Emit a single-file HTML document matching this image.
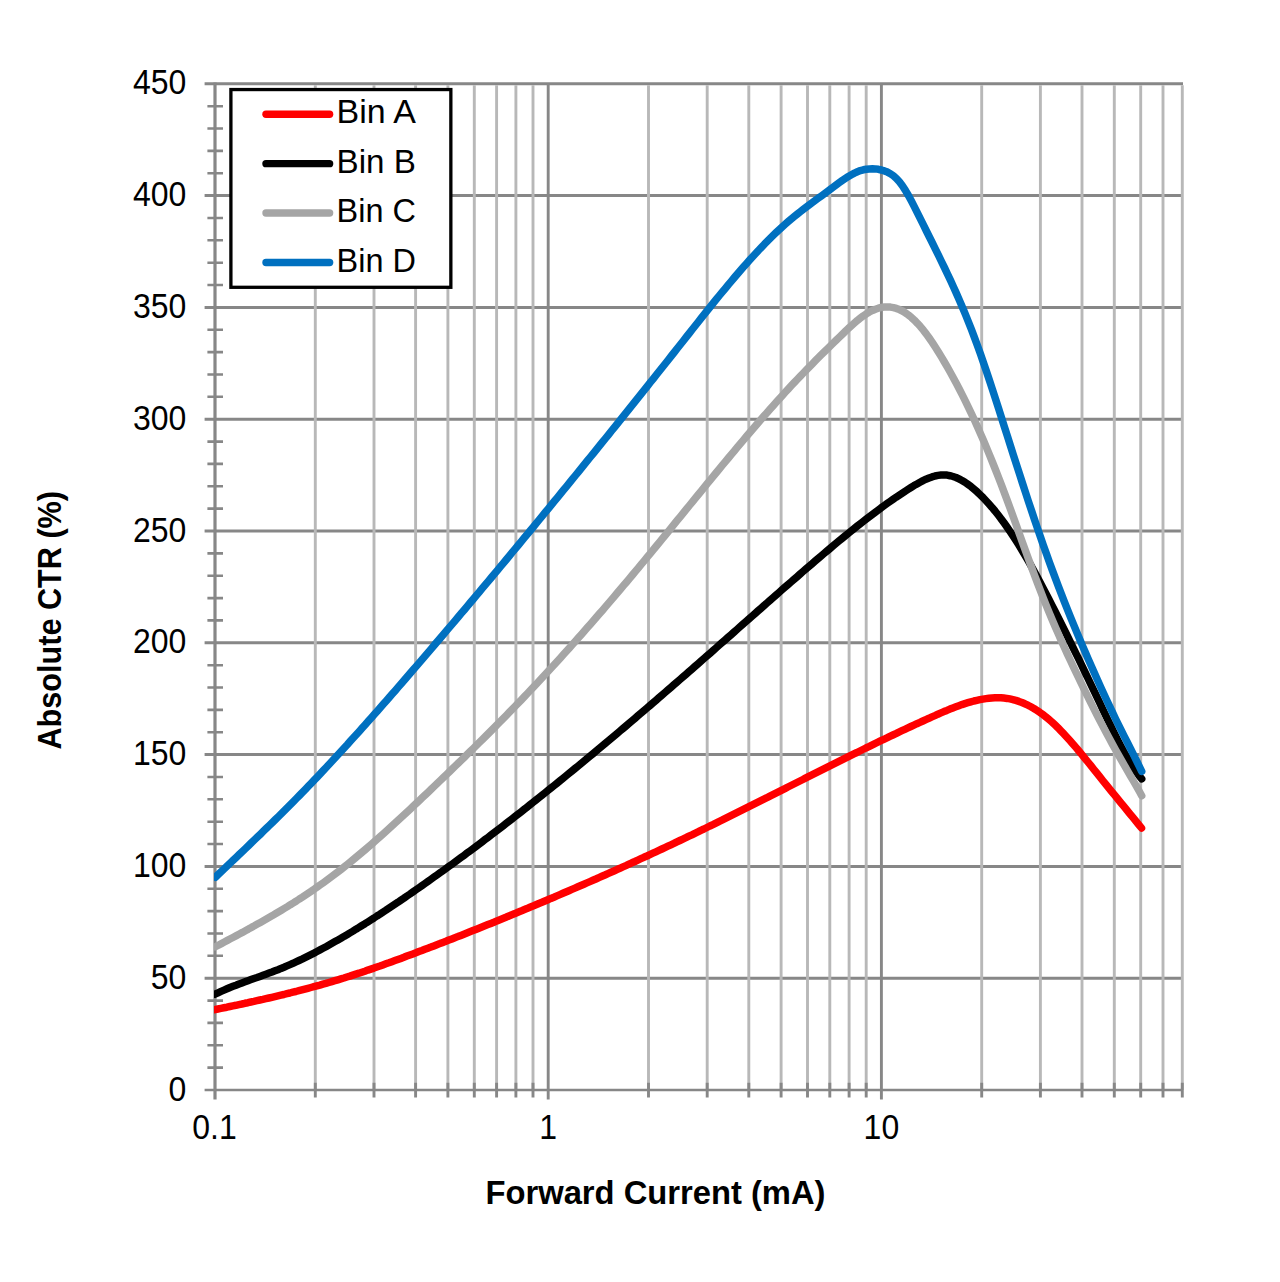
<!DOCTYPE html><html><head><meta charset="utf-8"><title>Absolute CTR vs Forward Current</title><style>html,body{margin:0;padding:0;background:#fff;}svg{display:block;}</style></head><body>
<svg width="1280" height="1282" viewBox="0 0 1280 1282">
<rect width="1280" height="1282" fill="#fff"/>
<path d="M204.6 978.2H1183.0M204.6 866.4H1183.0M204.6 754.6H1183.0M204.6 642.8H1183.0M204.6 531.0H1183.0M204.6 419.2H1183.0M204.6 307.4H1183.0M204.6 195.6H1183.0M204.6 83.8H1183.0" stroke="#878787" stroke-width="3" fill="none"/>
<path d="M315.3 85.3V1090.0M374.0 85.3V1090.0M415.6 85.3V1090.0M447.9 85.3V1090.0M474.3 85.3V1090.0M496.6 85.3V1090.0M515.9 85.3V1090.0M533.0 85.3V1090.0M648.5 85.3V1090.0M707.2 85.3V1090.0M748.8 85.3V1090.0M781.1 85.3V1090.0M807.5 85.3V1090.0M829.8 85.3V1090.0M849.1 85.3V1090.0M866.2 85.3V1090.0M981.7 85.3V1090.0M1040.4 85.3V1090.0M1082.0 85.3V1090.0M1114.3 85.3V1090.0M1140.7 85.3V1090.0M1163.0 85.3V1090.0M1182.3 85.3V1090.0" stroke="#b8b8b8" stroke-width="2.9" fill="none"/>
<path d="M204.6 1090.0H1183.0" stroke="#878787" stroke-width="2.6" fill="none"/>
<path d="M315.3 1082.7V1097.5M374.0 1082.7V1097.5M415.6 1082.7V1097.5M447.9 1082.7V1097.5M474.3 1082.7V1097.5M496.6 1082.7V1097.5M515.9 1082.7V1097.5M533.0 1082.7V1097.5M648.5 1082.7V1097.5M707.2 1082.7V1097.5M748.8 1082.7V1097.5M781.1 1082.7V1097.5M807.5 1082.7V1097.5M829.8 1082.7V1097.5M849.1 1082.7V1097.5M866.2 1082.7V1097.5M981.7 1082.7V1097.5M1040.4 1082.7V1097.5M1082.0 1082.7V1097.5M1114.3 1082.7V1097.5M1140.7 1082.7V1097.5M1163.0 1082.7V1097.5M1182.3 1082.7V1097.5" stroke="#878787" stroke-width="2.9" fill="none"/>
<path d="M548.2 83.8V1099.5M881.4 83.8V1099.5" stroke="#878787" stroke-width="2.9" fill="none"/>
<path d="M215.0 82.5V1099.5" stroke="#878787" stroke-width="3.2" fill="none"/>
<path d="M207.4 1067.6H223M207.4 1045.3H223M207.4 1022.9H223M207.4 1000.6H223M207.4 955.8H223M207.4 933.5H223M207.4 911.1H223M207.4 888.8H223M207.4 844.0H223M207.4 821.7H223M207.4 799.3H223M207.4 777.0H223M207.4 732.2H223M207.4 709.9H223M207.4 687.5H223M207.4 665.2H223M207.4 620.4H223M207.4 598.1H223M207.4 575.7H223M207.4 553.4H223M207.4 508.6H223M207.4 486.3H223M207.4 463.9H223M207.4 441.6H223M207.4 396.8H223M207.4 374.5H223M207.4 352.1H223M207.4 329.8H223M207.4 285.0H223M207.4 262.7H223M207.4 240.3H223M207.4 218.0H223M207.4 173.2H223M207.4 150.9H223M207.4 128.5H223M207.4 106.2H223" stroke="#878787" stroke-width="2.6" fill="none"/>
<defs><clipPath id="pc"><rect x="214" y="0" width="1066" height="1282"/></clipPath></defs><g clip-path="url(#pc)">
<path d="M214.9 1009.7 217.9 1009.0 220.9 1008.4 223.9 1007.8 226.9 1007.2 229.9 1006.5 232.9 1005.9 235.9 1005.3 238.9 1004.6 241.9 1004.0 244.9 1003.3 247.9 1002.7 250.9 1002.0 253.9 1001.4 256.9 1000.7 259.9 1000.0 262.9 999.4 265.9 998.7 268.9 998.0 271.9 997.3 274.9 996.6 277.9 995.9 280.9 995.2 283.9 994.5 286.9 993.7 289.9 993.0 292.9 992.2 295.9 991.5 298.9 990.7 301.9 989.9 304.9 989.1 307.9 988.3 310.9 987.5 313.9 986.7 316.9 985.9 319.9 985.1 322.9 984.2 325.9 983.4 328.9 982.5 331.9 981.6 334.9 980.7 337.9 979.8 340.9 978.9 343.9 978.0 346.9 977.0 349.9 976.1 352.9 975.1 355.9 974.1 358.9 973.2 361.9 972.2 364.9 971.2 367.9 970.1 370.9 969.1 373.9 968.1 376.9 967.0 379.9 966.0 382.9 964.9 385.9 963.8 388.9 962.8 391.9 961.7 394.9 960.6 397.9 959.5 400.9 958.4 403.9 957.3 406.9 956.1 409.9 955.0 412.9 953.9 415.9 952.8 418.9 951.6 421.9 950.5 424.9 949.3 427.9 948.2 430.9 947.1 433.9 945.9 436.9 944.7 439.9 943.6 442.9 942.4 445.9 941.3 448.9 940.1 451.9 938.9 454.9 937.7 457.9 936.6 460.9 935.4 463.9 934.2 466.9 933.0 469.9 931.8 472.9 930.6 475.9 929.4 478.9 928.2 481.9 927.0 484.9 925.8 487.9 924.6 490.9 923.4 493.9 922.2 496.9 920.9 499.9 919.7 502.9 918.5 505.9 917.3 508.9 916.0 511.9 914.8 514.9 913.6 517.9 912.3 520.9 911.1 523.9 909.8 526.9 908.6 529.9 907.3 532.9 906.1 535.9 904.8 538.9 903.5 541.9 902.3 544.9 901.0 547.9 899.7 550.9 898.4 553.9 897.2 556.9 895.9 559.9 894.6 562.9 893.3 565.9 892.0 568.9 890.7 571.9 889.4 574.9 888.1 577.9 886.8 580.9 885.5 583.9 884.2 586.9 882.9 589.9 881.6 592.9 880.3 595.9 879.0 598.9 877.6 601.9 876.3 604.9 875.0 607.9 873.6 610.9 872.3 613.9 871.0 616.9 869.6 619.9 868.3 622.9 866.9 625.9 865.6 628.9 864.2 631.9 862.8 634.9 861.5 637.9 860.1 640.9 858.7 643.9 857.3 646.9 856.0 649.9 854.6 652.9 853.2 655.9 851.8 658.9 850.4 661.9 849.0 664.9 847.6 667.9 846.2 670.9 844.8 673.9 843.4 676.9 841.9 679.9 840.5 682.9 839.1 685.9 837.7 688.9 836.2 691.9 834.8 694.9 833.3 697.9 831.9 700.9 830.4 703.9 829.0 706.9 827.5 709.9 826.0 712.9 824.6 715.9 823.1 718.9 821.6 721.9 820.2 724.9 818.7 727.9 817.2 730.9 815.7 733.9 814.2 736.9 812.7 739.9 811.2 742.9 809.7 745.9 808.2 748.9 806.7 751.9 805.2 754.9 803.7 757.9 802.2 760.9 800.7 763.9 799.2 766.9 797.7 769.9 796.1 772.9 794.6 775.9 793.1 778.9 791.6 781.9 790.1 784.9 788.6 787.9 787.0 790.9 785.5 793.9 784.0 796.9 782.5 799.9 781.0 802.9 779.5 805.9 777.9 808.9 776.4 811.9 774.9 814.9 773.4 817.9 771.9 820.9 770.4 823.9 768.9 826.9 767.4 829.9 765.9 832.9 764.4 835.9 762.9 838.9 761.4 841.9 759.9 844.9 758.4 847.9 756.9 850.9 755.4 853.9 753.9 856.9 752.5 859.9 751.0 862.9 749.5 865.9 748.0 868.9 746.6 871.9 745.1 874.9 743.6 877.9 742.2 880.9 740.7 883.9 739.3 886.9 737.9 889.9 736.4 892.9 735.0 895.9 733.6 898.9 732.1 901.9 730.7 904.9 729.3 907.9 727.9 910.9 726.5 913.9 725.1 916.9 723.7 919.9 722.4 922.9 721.0 925.9 719.6 928.9 718.3 931.9 716.9 934.9 715.6 937.9 714.2 940.9 712.9 943.9 711.6 946.9 710.4 949.9 709.1 952.9 707.9 955.9 706.8 958.9 705.7 961.9 704.6 964.9 703.6 967.9 702.7 970.9 701.8 973.9 701.0 976.9 700.3 979.9 699.6 982.9 699.1 985.9 698.6 988.9 698.2 991.9 697.9 994.9 697.8 997.9 697.7 1000.9 697.8 1003.9 698.1 1006.9 698.4 1009.9 698.9 1012.9 699.6 1015.9 700.4 1018.9 701.4 1021.9 702.5 1024.9 703.8 1027.9 705.2 1030.9 706.8 1033.9 708.5 1036.9 710.4 1039.9 712.4 1042.9 714.6 1045.9 716.9 1048.9 719.4 1051.9 722.0 1054.9 724.8 1057.9 727.7 1060.9 730.8 1063.9 733.9 1066.9 737.2 1069.9 740.5 1072.9 743.9 1075.9 747.4 1078.9 751.0 1081.9 754.6 1084.9 758.3 1087.9 762.0 1090.9 765.7 1093.9 769.5 1096.9 773.2 1099.9 776.9 1102.9 780.7 1105.9 784.4 1108.9 788.1 1111.9 791.8 1114.9 795.4 1117.9 799.1 1120.9 802.8 1123.9 806.4 1126.9 810.1 1129.9 813.8 1132.9 817.4 1135.9 821.1 1138.9 824.8 1141.5 828.0" stroke="#ff0000" stroke-width="7.5" fill="none" stroke-linecap="round" stroke-linejoin="round"/>
<path d="M215.0 994.2 218.0 992.8 221.0 991.4 224.0 990.1 227.0 988.8 230.0 987.5 233.0 986.3 236.0 985.2 239.0 984.0 242.0 982.9 245.0 981.8 248.0 980.7 251.0 979.6 254.0 978.5 257.0 977.5 260.0 976.4 263.0 975.3 266.0 974.2 269.0 973.1 272.0 972.0 275.0 970.8 278.0 969.7 281.0 968.4 284.0 967.2 287.0 965.9 290.0 964.6 293.0 963.3 296.0 961.9 299.0 960.5 302.0 959.1 305.0 957.6 308.0 956.1 311.0 954.6 314.0 953.1 317.0 951.5 320.0 949.9 323.0 948.3 326.0 946.7 329.0 945.0 332.0 943.3 335.0 941.6 338.0 939.9 341.0 938.2 344.0 936.4 347.0 934.7 350.0 932.9 353.0 931.1 356.0 929.2 359.0 927.4 362.0 925.5 365.0 923.7 368.0 921.8 371.0 919.9 374.0 918.0 377.0 916.0 380.0 914.1 383.0 912.1 386.0 910.2 389.0 908.2 392.0 906.2 395.0 904.2 398.0 902.2 401.0 900.1 404.0 898.1 407.0 896.0 410.0 894.0 413.0 891.9 416.0 889.8 419.0 887.7 422.0 885.6 425.0 883.5 428.0 881.4 431.0 879.3 434.0 877.1 437.0 875.0 440.0 872.8 443.0 870.7 446.0 868.5 449.0 866.3 452.0 864.2 455.0 862.0 458.0 859.8 461.0 857.6 464.0 855.4 467.0 853.1 470.0 850.9 473.0 848.7 476.0 846.4 479.0 844.2 482.0 841.9 485.0 839.6 488.0 837.4 491.0 835.1 494.0 832.8 497.0 830.5 500.0 828.2 503.0 825.9 506.0 823.6 509.0 821.2 512.0 818.9 515.0 816.6 518.0 814.2 521.0 811.9 524.0 809.5 527.0 807.2 530.0 804.8 533.0 802.4 536.0 800.0 539.0 797.6 542.0 795.3 545.0 792.9 548.0 790.4 551.0 788.0 554.0 785.6 557.0 783.2 560.0 780.8 563.0 778.3 566.0 775.9 569.0 773.4 572.0 771.0 575.0 768.5 578.0 766.1 581.0 763.6 584.0 761.1 587.0 758.6 590.0 756.1 593.0 753.7 596.0 751.2 599.0 748.7 602.0 746.2 605.0 743.6 608.0 741.1 611.0 738.6 614.0 736.1 617.0 733.6 620.0 731.0 623.0 728.5 626.0 726.0 629.0 723.4 632.0 720.9 635.0 718.3 638.0 715.7 641.0 713.2 644.0 710.6 647.0 708.0 650.0 705.5 653.0 702.9 656.0 700.3 659.0 697.7 662.0 695.1 665.0 692.5 668.0 689.9 671.0 687.3 674.0 684.7 677.0 682.1 680.0 679.5 683.0 676.9 686.0 674.3 689.0 671.7 692.0 669.1 695.0 666.4 698.0 663.8 701.0 661.2 704.0 658.5 707.0 655.9 710.0 653.3 713.0 650.6 716.0 648.0 719.0 645.3 722.0 642.7 725.0 640.1 728.0 637.4 731.0 634.8 734.0 632.1 737.0 629.5 740.0 626.8 743.0 624.2 746.0 621.5 749.0 618.9 752.0 616.2 755.0 613.6 758.0 610.9 761.0 608.3 764.0 605.6 767.0 603.0 770.0 600.4 773.0 597.7 776.0 595.1 779.0 592.5 782.0 589.8 785.0 587.2 788.0 584.6 791.0 582.0 794.0 579.4 797.0 576.8 800.0 574.1 803.0 571.5 806.0 568.9 809.0 566.4 812.0 563.8 815.0 561.2 818.0 558.6 821.0 556.1 824.0 553.5 827.0 551.0 830.0 548.5 833.0 545.9 836.0 543.4 839.0 540.9 842.0 538.5 845.0 536.0 848.0 533.6 851.0 531.1 854.0 528.7 857.0 526.3 860.0 524.0 863.0 521.6 866.0 519.3 869.0 517.0 872.0 514.7 875.0 512.4 878.0 510.2 881.0 507.9 884.0 505.8 887.0 503.6 890.0 501.5 893.0 499.4 896.0 497.3 899.0 495.3 902.0 493.3 905.0 491.3 908.0 489.4 911.0 487.5 914.0 485.6 917.0 483.9 920.0 482.2 923.0 480.6 926.0 479.2 929.0 478.0 932.0 476.9 935.0 476.0 938.0 475.4 941.0 475.0 944.0 474.9 947.0 475.1 950.0 475.7 953.0 476.5 956.0 477.5 959.0 478.9 962.0 480.5 965.0 482.3 968.0 484.4 971.0 486.6 974.0 489.1 977.0 491.7 980.0 494.6 983.0 497.5 986.0 500.7 989.0 504.0 992.0 507.4 995.0 511.0 998.0 514.8 1001.0 518.7 1004.0 522.8 1007.0 527.0 1010.0 531.3 1013.0 535.8 1016.0 540.5 1019.0 545.2 1022.0 550.2 1025.0 555.2 1028.0 560.4 1031.0 565.7 1034.0 571.1 1037.0 576.6 1040.0 582.2 1043.0 587.9 1046.0 593.7 1049.0 599.5 1052.0 605.4 1055.0 611.3 1058.0 617.3 1061.0 623.3 1064.0 629.3 1067.0 635.3 1070.0 641.4 1073.0 647.5 1076.0 653.6 1079.0 659.7 1082.0 665.9 1085.0 672.1 1088.0 678.3 1091.0 684.6 1094.0 690.8 1097.0 697.1 1100.0 703.4 1103.0 709.8 1106.0 716.1 1109.0 722.4 1112.0 728.6 1115.0 734.7 1118.0 740.6 1121.0 746.4 1124.0 752.0 1127.0 757.3 1130.0 762.4 1133.0 767.2 1136.0 771.6 1139.0 775.6 1141.7 778.9" stroke="#000000" stroke-width="7.5" fill="none" stroke-linecap="round" stroke-linejoin="round"/>
<path d="M215.4 946.7 218.4 945.2 221.4 943.6 224.4 942.0 227.4 940.4 230.4 938.8 233.4 937.2 236.4 935.6 239.4 934.0 242.4 932.4 245.4 930.7 248.4 929.1 251.4 927.4 254.4 925.8 257.4 924.1 260.4 922.4 263.4 920.7 266.4 919.0 269.4 917.3 272.4 915.6 275.4 913.8 278.4 912.0 281.4 910.2 284.4 908.4 287.4 906.6 290.4 904.7 293.4 902.9 296.4 901.0 299.4 899.0 302.4 897.1 305.4 895.1 308.4 893.1 311.4 891.1 314.4 889.0 317.4 886.9 320.4 884.8 323.4 882.7 326.4 880.5 329.4 878.3 332.4 876.1 335.4 873.8 338.4 871.5 341.4 869.2 344.4 866.8 347.4 864.4 350.4 862.0 353.4 859.5 356.4 857.0 359.4 854.5 362.4 852.0 365.4 849.5 368.4 846.9 371.4 844.3 374.4 841.7 377.4 839.0 380.4 836.4 383.4 833.7 386.4 831.0 389.4 828.3 392.4 825.5 395.4 822.8 398.4 820.0 401.4 817.3 404.4 814.5 407.4 811.7 410.4 808.9 413.4 806.1 416.4 803.2 419.4 800.4 422.4 797.6 425.4 794.7 428.4 791.9 431.4 789.0 434.4 786.1 437.4 783.3 440.4 780.4 443.4 777.5 446.4 774.6 449.4 771.7 452.4 768.8 455.4 765.9 458.4 763.0 461.4 760.1 464.4 757.2 467.4 754.2 470.4 751.3 473.4 748.4 476.4 745.4 479.4 742.4 482.4 739.5 485.4 736.5 488.4 733.5 491.4 730.5 494.4 727.5 497.4 724.4 500.4 721.4 503.4 718.3 506.4 715.3 509.4 712.2 512.4 709.1 515.4 706.0 518.4 702.9 521.4 699.8 524.4 696.6 527.4 693.5 530.4 690.3 533.4 687.2 536.4 684.0 539.4 680.8 542.4 677.5 545.4 674.3 548.4 671.0 551.4 667.8 554.4 664.5 557.4 661.2 560.4 657.9 563.4 654.6 566.4 651.3 569.4 647.9 572.4 644.6 575.4 641.2 578.4 637.8 581.4 634.4 584.4 631.0 587.4 627.6 590.4 624.2 593.4 620.8 596.4 617.3 599.4 613.8 602.4 610.4 605.4 606.9 608.4 603.4 611.4 599.9 614.4 596.3 617.4 592.8 620.4 589.3 623.4 585.7 626.4 582.2 629.4 578.6 632.4 575.0 635.4 571.4 638.4 567.8 641.4 564.2 644.4 560.6 647.4 556.9 650.4 553.3 653.4 549.6 656.4 546.0 659.4 542.3 662.4 538.6 665.4 535.0 668.4 531.3 671.4 527.6 674.4 523.9 677.4 520.2 680.4 516.6 683.4 512.9 686.4 509.2 689.4 505.5 692.4 501.8 695.4 498.1 698.4 494.5 701.4 490.8 704.4 487.1 707.4 483.4 710.4 479.8 713.4 476.1 716.4 472.5 719.4 468.8 722.4 465.2 725.4 461.6 728.4 458.0 731.4 454.4 734.4 450.8 737.4 447.2 740.4 443.6 743.4 440.1 746.4 436.5 749.4 433.0 752.4 429.5 755.4 426.0 758.4 422.5 761.4 419.0 764.4 415.6 767.4 412.2 770.4 408.8 773.4 405.4 776.4 402.1 779.4 398.7 782.4 395.4 785.4 392.1 788.4 388.9 791.4 385.6 794.4 382.4 797.4 379.2 800.4 376.1 803.4 373.0 806.4 369.9 809.4 366.8 812.4 363.8 815.4 360.7 818.4 357.7 821.4 354.7 824.4 351.8 827.4 348.8 830.4 345.9 833.4 342.9 836.4 340.0 839.4 337.1 842.4 334.2 845.4 331.3 848.4 328.4 851.4 325.7 854.4 323.0 857.4 320.4 860.4 318.1 863.4 315.8 866.4 313.8 869.4 312.0 872.4 310.5 875.4 309.2 878.4 308.2 881.4 307.4 884.4 307.0 887.4 306.9 890.4 307.1 893.4 307.6 896.4 308.4 899.4 309.6 902.4 311.0 905.4 312.9 908.4 315.0 911.4 317.4 914.4 320.2 917.4 323.3 920.4 326.6 923.4 330.2 926.4 334.1 929.4 338.3 932.4 342.6 935.4 347.2 938.4 352.0 941.4 356.9 944.4 362.0 947.4 367.2 950.4 372.5 953.4 378.0 956.4 383.5 959.4 389.3 962.4 395.1 965.4 401.1 968.4 407.3 971.4 413.6 974.4 420.0 977.4 426.6 980.4 433.4 983.4 440.3 986.4 447.4 989.4 454.6 992.4 462.0 995.4 469.5 998.4 477.2 1001.4 484.9 1004.4 492.9 1007.4 500.9 1010.4 509.0 1013.4 517.3 1016.4 525.6 1019.4 533.9 1022.4 542.2 1025.4 550.5 1028.4 558.8 1031.4 566.9 1034.4 575.0 1037.4 582.9 1040.4 590.7 1043.4 598.3 1046.4 605.8 1049.4 613.1 1052.4 620.2 1055.4 627.2 1058.4 634.1 1061.4 640.9 1064.4 647.5 1067.4 654.1 1070.4 660.5 1073.4 666.9 1076.4 673.2 1079.4 679.5 1082.4 685.7 1085.4 691.8 1088.4 697.9 1091.4 703.9 1094.4 709.9 1097.4 715.8 1100.4 721.6 1103.4 727.3 1106.4 733.0 1109.4 738.6 1112.4 744.1 1115.4 749.5 1118.4 754.9 1121.4 760.2 1124.4 765.4 1127.4 770.6 1130.4 775.8 1133.4 781.0 1136.4 786.2 1139.4 791.5 1141.7 795.7" stroke="#a5a5a5" stroke-width="7.5" fill="none" stroke-linecap="round" stroke-linejoin="round"/>
<path d="M215.4 877.2 218.4 874.3 221.4 871.5 224.4 868.6 227.4 865.8 230.4 862.9 233.4 860.0 236.4 857.2 239.4 854.3 242.4 851.5 245.4 848.6 248.4 845.7 251.4 842.8 254.4 839.9 257.4 837.1 260.4 834.2 263.4 831.2 266.4 828.3 269.4 825.4 272.4 822.5 275.4 819.5 278.4 816.6 281.4 813.6 284.4 810.6 287.4 807.6 290.4 804.6 293.4 801.6 296.4 798.5 299.4 795.5 302.4 792.4 305.4 789.3 308.4 786.2 311.4 783.1 314.4 779.9 317.4 776.8 320.4 773.6 323.4 770.4 326.4 767.2 329.4 764.0 332.4 760.8 335.4 757.5 338.4 754.3 341.4 751.0 344.4 747.7 347.4 744.5 350.4 741.1 353.4 737.8 356.4 734.5 359.4 731.2 362.4 727.8 365.4 724.5 368.4 721.1 371.4 717.7 374.4 714.3 377.4 710.9 380.4 707.5 383.4 704.1 386.4 700.7 389.4 697.2 392.4 693.8 395.4 690.4 398.4 686.9 401.4 683.5 404.4 680.0 407.4 676.5 410.4 673.0 413.4 669.6 416.4 666.1 419.4 662.6 422.4 659.1 425.4 655.6 428.4 652.1 431.4 648.6 434.4 645.0 437.4 641.5 440.4 638.0 443.4 634.5 446.4 630.9 449.4 627.4 452.4 623.9 455.4 620.3 458.4 616.8 461.4 613.2 464.4 609.7 467.4 606.1 470.4 602.5 473.4 599.0 476.4 595.4 479.4 591.8 482.4 588.2 485.4 584.6 488.4 581.1 491.4 577.5 494.4 573.9 497.4 570.3 500.4 566.7 503.4 563.1 506.4 559.5 509.4 555.8 512.4 552.2 515.4 548.6 518.4 545.0 521.4 541.4 524.4 537.7 527.4 534.1 530.4 530.5 533.4 526.8 536.4 523.2 539.4 519.5 542.4 515.9 545.4 512.2 548.4 508.6 551.4 504.9 554.4 501.2 557.4 497.6 560.4 493.9 563.4 490.2 566.4 486.6 569.4 482.9 572.4 479.2 575.4 475.5 578.4 471.8 581.4 468.1 584.4 464.4 587.4 460.7 590.4 457.0 593.4 453.3 596.4 449.6 599.4 445.9 602.4 442.2 605.4 438.5 608.4 434.8 611.4 431.0 614.4 427.3 617.4 423.6 620.4 419.9 623.4 416.1 626.4 412.4 629.4 408.6 632.4 404.9 635.4 401.1 638.4 397.4 641.4 393.6 644.4 389.9 647.4 386.1 650.4 382.3 653.4 378.6 656.4 374.8 659.4 371.0 662.4 367.2 665.4 363.5 668.4 359.7 671.4 355.9 674.4 352.1 677.4 348.3 680.4 344.5 683.4 340.7 686.4 336.9 689.4 333.1 692.4 329.3 695.4 325.5 698.4 321.7 701.4 317.9 704.4 314.2 707.4 310.4 710.4 306.7 713.4 302.9 716.4 299.2 719.4 295.5 722.4 291.9 725.4 288.3 728.4 284.6 731.4 281.1 734.4 277.5 737.4 274.0 740.4 270.5 743.4 267.1 746.4 263.7 749.4 260.3 752.4 257.0 755.4 253.8 758.4 250.5 761.4 247.4 764.4 244.2 767.4 241.2 770.4 238.2 773.4 235.2 776.4 232.3 779.4 229.5 782.4 226.7 785.4 224.0 788.4 221.4 791.4 218.9 794.4 216.4 797.4 214.0 800.4 211.6 803.4 209.3 806.4 207.0 809.4 204.7 812.4 202.5 815.4 200.3 818.4 198.1 821.4 195.9 824.4 193.7 827.4 191.5 830.4 189.2 833.4 187.0 836.4 184.7 839.4 182.5 842.4 180.4 845.4 178.4 848.4 176.4 851.4 174.7 854.4 173.1 857.4 171.8 860.4 170.6 863.4 169.8 866.4 169.2 869.4 168.9 872.4 168.8 875.4 168.9 878.4 169.3 881.4 170.0 884.4 170.9 887.4 172.1 890.4 173.7 893.4 175.8 896.4 178.5 899.4 181.8 902.4 185.8 905.4 190.4 908.4 195.5 911.4 201.1 914.4 206.9 917.4 212.9 920.4 218.9 923.4 224.9 926.4 231.0 929.4 237.0 932.4 243.0 935.4 249.1 938.4 255.2 941.4 261.3 944.4 267.5 947.4 273.8 950.4 280.2 953.4 286.8 956.4 293.4 959.4 300.2 962.4 307.2 965.4 314.4 968.4 321.8 971.4 329.4 974.4 337.3 977.4 345.5 980.4 353.8 983.4 362.5 986.4 371.3 989.4 380.2 992.4 389.4 995.4 398.6 998.4 407.9 1001.4 417.3 1004.4 426.8 1007.4 436.2 1010.4 445.7 1013.4 455.1 1016.4 464.4 1019.4 473.7 1022.4 483.0 1025.4 492.2 1028.4 501.3 1031.4 510.3 1034.4 519.2 1037.4 528.1 1040.4 536.8 1043.4 545.4 1046.4 553.8 1049.4 562.2 1052.4 570.4 1055.4 578.4 1058.4 586.3 1061.4 594.1 1064.4 601.8 1067.4 609.3 1070.4 616.8 1073.4 624.1 1076.4 631.4 1079.4 638.5 1082.4 645.6 1085.4 652.6 1088.4 659.5 1091.4 666.3 1094.4 673.1 1097.4 679.8 1100.4 686.5 1103.4 693.0 1106.4 699.5 1109.4 705.9 1112.4 712.2 1115.4 718.5 1118.4 724.6 1121.4 730.7 1124.4 736.6 1127.4 742.5 1130.4 748.5 1133.4 754.4 1136.4 760.5 1139.4 766.6 1141.7 771.4" stroke="#0070c0" stroke-width="7.5" fill="none" stroke-linecap="round" stroke-linejoin="round"/>
</g>
<rect x="230.9" y="89.55" width="219.95" height="197.75" fill="#fff" stroke="#000" stroke-width="3.3"/>
<path d="M266 114.20H329.6" stroke="#ff0000" stroke-width="7.4" stroke-linecap="round"/>
<text x="336.6" y="123.40" font-family="Liberation Sans, sans-serif" font-size="34" textLength="79.3" lengthAdjust="spacingAndGlyphs" fill="#000">Bin A</text>
<path d="M266 163.63H329.6" stroke="#000000" stroke-width="7.4" stroke-linecap="round"/>
<text x="336.6" y="172.83" font-family="Liberation Sans, sans-serif" font-size="34" textLength="79.3" lengthAdjust="spacingAndGlyphs" fill="#000">Bin B</text>
<path d="M266 213.06H329.6" stroke="#a5a5a5" stroke-width="7.4" stroke-linecap="round"/>
<text x="336.6" y="222.26" font-family="Liberation Sans, sans-serif" font-size="34" textLength="79.3" lengthAdjust="spacingAndGlyphs" fill="#000">Bin C</text>
<path d="M266 262.49H329.6" stroke="#0070c0" stroke-width="7.4" stroke-linecap="round"/>
<text x="336.6" y="271.69" font-family="Liberation Sans, sans-serif" font-size="34" textLength="79.3" lengthAdjust="spacingAndGlyphs" fill="#000">Bin D</text>
<text transform="translate(186.3 1100.60) scale(1 1.07)" text-anchor="end" font-family="Liberation Sans, sans-serif" font-size="32" fill="#000">0</text>
<text transform="translate(186.3 988.80) scale(1 1.07)" text-anchor="end" font-family="Liberation Sans, sans-serif" font-size="32" fill="#000">50</text>
<text transform="translate(186.3 877.00) scale(1 1.07)" text-anchor="end" font-family="Liberation Sans, sans-serif" font-size="32" fill="#000">100</text>
<text transform="translate(186.3 765.20) scale(1 1.07)" text-anchor="end" font-family="Liberation Sans, sans-serif" font-size="32" fill="#000">150</text>
<text transform="translate(186.3 653.40) scale(1 1.07)" text-anchor="end" font-family="Liberation Sans, sans-serif" font-size="32" fill="#000">200</text>
<text transform="translate(186.3 541.60) scale(1 1.07)" text-anchor="end" font-family="Liberation Sans, sans-serif" font-size="32" fill="#000">250</text>
<text transform="translate(186.3 429.80) scale(1 1.07)" text-anchor="end" font-family="Liberation Sans, sans-serif" font-size="32" fill="#000">300</text>
<text transform="translate(186.3 318.00) scale(1 1.07)" text-anchor="end" font-family="Liberation Sans, sans-serif" font-size="32" fill="#000">350</text>
<text transform="translate(186.3 206.20) scale(1 1.07)" text-anchor="end" font-family="Liberation Sans, sans-serif" font-size="32" fill="#000">400</text>
<text transform="translate(186.3 94.40) scale(1 1.07)" text-anchor="end" font-family="Liberation Sans, sans-serif" font-size="32" fill="#000">450</text>
<text transform="translate(214.50 1139.4) scale(1 1.07)" text-anchor="middle" font-family="Liberation Sans, sans-serif" font-size="32" fill="#000">0.1</text>
<text transform="translate(548.20 1139.4) scale(1 1.07)" text-anchor="middle" font-family="Liberation Sans, sans-serif" font-size="32" fill="#000">1</text>
<text transform="translate(881.40 1139.4) scale(1 1.07)" text-anchor="middle" font-family="Liberation Sans, sans-serif" font-size="32" fill="#000">10</text>
<text x="485.5" y="1204" font-family="Liberation Sans, sans-serif" font-weight="bold" font-size="33.8" textLength="340" lengthAdjust="spacingAndGlyphs" fill="#000">Forward Current (mA)</text>
<text transform="translate(61.1 749.5) rotate(-90)" x="0" y="0" font-family="Liberation Sans, sans-serif" font-weight="bold" font-size="34" textLength="258.5" lengthAdjust="spacingAndGlyphs" fill="#000">Absolute CTR (%)</text>
</svg></body></html>
